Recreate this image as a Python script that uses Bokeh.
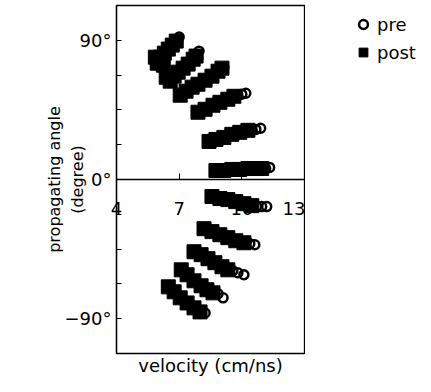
from bokeh.plotting import figure
from bokeh.layouts import row
from bokeh.models import FixedTicker, Legend, LegendItem, Range1d, LinearAxis
from bokeh.embed import file_html
from bokeh.resources import INLINE

# post (filled squares): velocity (cm/ns) and propagating angle (degree)
post_velocity = [
    5.86, 5.95, 6.10, 6.24, 6.29, 6.48, 6.67, 6.86,  # row 1
    6.38, 6.57, 6.76, 6.95, 7.19, 7.43, 7.67, 7.81,  # row 2
    7.05, 7.33, 7.62, 7.90, 8.24, 8.57, 8.86, 9.05,  # row 3
    7.90, 8.24, 8.62, 8.95, 9.33, 9.62,              # row 4
    8.43, 8.76, 9.14, 9.52, 9.90, 10.29,             # row 5
    8.76, 9.14, 9.52, 9.90, 10.29, 10.67, 10.95,     # row 6
    8.57, 8.95, 9.33, 9.71, 10.10, 10.48,            # row 7
    8.19, 8.57, 8.95, 9.33, 9.71, 10.10,             # row 8
    7.71, 8.05, 8.38, 8.71, 9.05, 9.33,              # row 9
    7.10, 7.38, 7.71, 8.05, 8.33, 8.62,              # row 10
    6.48, 6.76, 7.05, 7.38, 7.71, 8.00,              # row 11
]
post_angle = [
    79.1, 75.2, 79.1, 73.9, 81.7, 84.3, 86.9, 89.5,
    66.1, 63.6, 66.8, 69.4, 72.0, 74.6, 77.8, 79.8,
    54.5, 57.1, 59.7, 61.6, 64.2, 66.8, 70.0, 72.0,
    43.5, 45.4, 48.0, 49.9, 51.9, 53.8,
    24.6, 25.9, 27.2, 29.2, 30.5, 31.8,
    5.8, 5.8, 6.5, 6.5, 7.1, 7.1, 7.1,
    -11.0, -12.3, -13.0, -14.3, -15.6, -16.9,
    -31.8, -33.7, -35.7, -37.6, -39.6, -40.9,
    -46.7, -48.6, -51.2, -53.8, -56.4, -58.4,
    -58.4, -61.6, -65.5, -68.7, -71.3, -73.3,
    -69.4, -72.6, -76.5, -79.8, -83.0, -85.6,
]

# pre (open circles)
pre_velocity = [
    7.00, 6.90,
    7.95, 7.90,
    9.14,
    9.81, 10.00, 10.19,
    10.48, 10.67, 10.90,
    11.14, 11.33,
    10.71, 10.95, 11.19,
    10.38, 10.62,
    9.57, 9.81, 10.10,
    8.86, 9.10,
    8.24,
]
pre_angle = [
    92.1, 90.1,
    83.0, 78.5,
    72.6,
    54.5, 55.1, 55.8,
    31.8, 32.4, 33.1,
    7.1, 7.8,
    -17.5, -17.5, -17.5,
    -41.5, -42.2,
    -59.0, -60.3, -61.6,
    -73.9, -76.5,
    -86.3,
]

x_ticks = [4, 7, 10, 13]
y_ticks = [-90, -67.5, -45, -22.5, 0, 22.5, 45, 67.5, 90]
y_tick_labels = {90: "90°", 0: "0°", -90: "\u221290°"}
series_names = ["pre", "post"]

FONT = "DejaVu Sans"

p = figure(width=305, height=392, output_backend="svg", toolbar_location=None,
           x_range=Range1d(4, 13), y_range=Range1d(-112.5, 112.5),
           min_border_left=116, min_border_right=1, min_border_top=5,
           min_border_bottom=39, background_fill_color="white",
           border_fill_color="white")
p.grid.visible = False
p.outline_line_color = "black"
p.outline_line_width = 1.3

post_style = dict(marker="square", fill_color="black", line_color="black")
pre_style = dict(marker="circle", fill_color=None, line_color="black",
                 line_width=2.5)

p.scatter(post_velocity, post_angle, size=14, **post_style)
p.scatter(pre_velocity, pre_angle, size=9, **pre_style)

# bottom axis: carries only the tick labels (moved up under the zero line) and the title
xb = p.xaxis[0]
xb.ticker = FixedTicker(ticks=x_ticks)
xb.major_tick_in = 0
xb.major_tick_out = 0
xb.minor_tick_in = 0
xb.minor_tick_out = 0
xb.axis_line_color = None
xb.major_label_standoff = -152
xb.major_label_text_font = FONT
xb.major_label_text_font_size = "18px"
xb.major_label_text_color = "black"
xb.axis_label = "velocity (cm/ns)"
xb.axis_label_standoff = 137
xb.axis_label_text_font = FONT
xb.axis_label_text_font_size = "18px"
xb.axis_label_text_font_style = "normal"
xb.axis_label_text_color = "black"

# zero line axis with inward ticks
x0 = LinearAxis(fixed_location=0, ticker=FixedTicker(ticks=x_ticks),
                major_tick_in=6, major_tick_out=0, minor_tick_in=0,
                minor_tick_out=0, axis_line_color="black", axis_line_width=1.3,
                major_label_text_alpha=0, major_label_text_font_size="1px")
p.add_layout(x0, "below")

ya = p.yaxis[0]
ya.ticker = FixedTicker(ticks=y_ticks)
ya.major_label_overrides = {t: y_tick_labels.get(t, "") for t in y_ticks}
ya.major_tick_in = 5
ya.major_tick_out = 0
ya.minor_tick_in = 0
ya.minor_tick_out = 0
ya.axis_line_color = "black"
ya.axis_line_width = 1.3
ya.major_label_standoff = 5
ya.major_label_text_font = FONT
ya.major_label_text_font_size = "18px"
ya.major_label_text_color = "black"
ya.axis_label = "propagating angle\n(degree)"
ya.axis_label_standoff = -25
ya.axis_label_text_font = FONT
ya.axis_label_text_font_size = "16px"
ya.axis_label_text_font_style = "normal"
ya.axis_label_text_color = "black"

# legend panel to the right of the plot frame (same series, ranges keep marks out of view)
lf = figure(width=126, height=392, output_backend="svg", toolbar_location=None,
            x_range=Range1d(0, 1), y_range=Range1d(0, 1),
            min_border_left=39, min_border_right=0, min_border_top=0,
            min_border_bottom=0, outline_line_color=None,
            background_fill_color="white", border_fill_color="white")
lf.axis.visible = False
lf.grid.visible = False
lr_pre = lf.scatter(pre_velocity, pre_angle, size=9, **pre_style)
lr_post = lf.scatter(post_velocity, post_angle, size=14, **post_style)
legend = Legend(items=[LegendItem(label=series_names[0], renderers=[lr_pre]),
                       LegendItem(label=series_names[1], renderers=[lr_post])],
                location="top_left", glyph_width=22, glyph_height=22,
                spacing=6, padding=0, margin=8, label_standoff=3,
                border_line_alpha=0, background_fill_alpha=0,
                label_text_font=FONT, label_text_font_size="18px",
                label_text_color="black")
lf.add_layout(legend)

layout = row(p, lf, spacing=0)
open("out.html", "w").write(file_html(layout, INLINE))
